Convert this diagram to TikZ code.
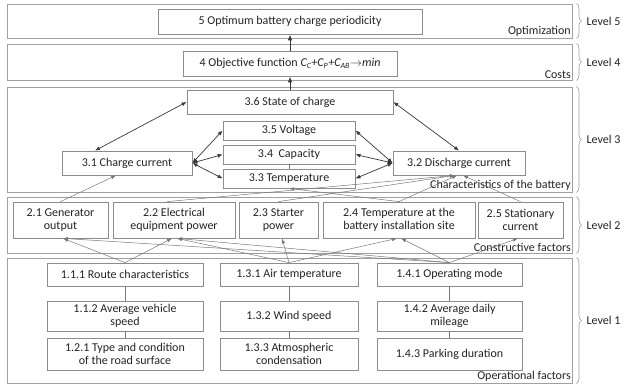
\documentclass[tikz,border=0pt]{standalone}
\usepackage{fontspec}
\setmainfont{Carlito}
\usetikzlibrary{arrows.meta, positioning, decorations.pathreplacing, calc}
\definecolor{FrameGray}{RGB}{160,160,160}
\definecolor{BoxGray}{RGB}{140,140,140}
\definecolor{LinkGray}{RGB}{120,120,120}
\definecolor{ArrowDark}{RGB}{55,55,55}
\definecolor{TextDark}{RGB}{35,35,35}

\begin{document}
\begin{tikzpicture}[x=1pt, y=-1pt, font=\fontsize{12}{13.5}\selectfont, text=TextDark,
    frame/.style={draw=FrameGray, line width=0.9pt, inner sep=0pt},
    box/.style={draw=BoxGray, line width=0.8pt, align=center, inner sep=1pt},
    tag/.style={anchor=south east, inner sep=1.5pt},
    lvl/.style={anchor=west, inner sep=0pt},
    brace/.style={draw=FrameGray, line width=0.6pt, decorate, decoration={brace, amplitude=5pt}},
    rise/.style={draw=ArrowDark, line width=0.9pt, -{Latex[length=6pt, width=4.5pt]}},
    dual/.style={draw=ArrowDark, line width=0.7pt, {Latex[length=5pt, width=4pt]}-{Latex[length=5pt, width=4pt]}},
    feed/.style={draw=LinkGray, line width=0.5pt, -{Latex[length=5pt, width=3.5pt]}},
    tie/.style={draw=LinkGray, line width=0.5pt}]
  \useasboundingbox (0,0) rectangle (630,385);

  % level frames
  \node[frame, minimum width=565pt, minimum height=34pt]  (lv5) at (289.5,21) {};
  \node[frame, minimum width=565pt, minimum height=36pt]  (lv4) at (289.5,62) {};
  \node[frame, minimum width=565pt, minimum height=105pt] (lv3) at (289.5,139.5) {};
  \node[frame, minimum width=565pt, minimum height=56pt]  (lv2) at (289.5,225) {};
  \node[frame, minimum width=565pt, minimum height=125pt] (lv1) at (289.5,320.5) {};

  \node[tag] (t5) at (lv5.south east) {Optimization};
  \node[tag] (t4) at (lv4.south east) {Costs};
  \node[tag] (t3) at (lv3.south east) {Characteristics of the battery};
  \node[tag] (t2) at (lv2.south east) {Constructive factors};
  \node[tag] (t1) at (lv1.south east) {Operational factors};

  \foreach \n in {1,...,5} {
    \draw[brace] ([xshift=4pt]lv\n.north east) -- ([xshift=4pt]lv\n.south east);
    \node[lvl] (lab\n) at ([xshift=14pt]lv\n.east) {Level \n};
  }

  % level 5 and 4
  \node[box, minimum width=264pt, minimum height=25pt] (c5) at (290,21.5) {5 Optimum battery charge periodicity};
  \node[box, minimum width=214pt, minimum height=25pt] (c4) at (290,63.5)
    {4 Objective function \textit{C\textsubscript{C}+C\textsubscript{P}+C\textsubscript{AB}}$\rightarrow$\textit{min}};

  % level 3
  \node[box, minimum width=206pt, minimum height=24pt] (c36) at (290,102) {3.6 State of charge};
  \node[box, minimum width=132pt, minimum height=19pt] (c35) at (289,130.5) {3.5 Voltage};
  \node[box, minimum width=132pt, minimum height=19pt] (c34) at (289,154.5) {3.4~~Capacity};
  \node[box, minimum width=132pt, minimum height=19pt] (c33) at (289,178.5) {3.3 Temperature};
  \node[box, minimum width=130pt, minimum height=24pt] (c31) at (127,163) {3.1 Charge current};
  \node[box, minimum width=132pt, minimum height=24pt] (c32) at (459,163) {3.2 Discharge current};

  % level 2
  \node[box, minimum width=95pt,  minimum height=36pt] (c21) at (60.5,220)  {2.1 Generator\\output};
  \node[box, minimum width=122pt, minimum height=36pt] (c22) at (174,220)   {2.2 Electrical\\equipment power};
  \node[box, minimum width=79pt,  minimum height=36pt] (c23) at (278.5,220) {2.3 Starter\\power};
  \node[box, minimum width=152pt, minimum height=36pt] (c24) at (399,220)   {2.4 Temperature at the\\battery installation site};
  \node[box, minimum width=85pt,  minimum height=36pt] (c25) at (520.5,220) {2.5 Stationary\\current};

  % level 1
  \node[box, minimum width=156pt, minimum height=23pt] (e111) at (125,274.5) {1.1.1 Route characteristics};
  \node[box, minimum width=156pt, minimum height=30pt] (e112) at (125,316)   {1.1.2 Average vehicle\\speed};
  \node[box, minimum width=156pt, minimum height=32pt] (e121) at (125,354)   {1.2.1 Type and condition\\of the road surface};
  \node[box, minimum width=138pt, minimum height=23pt] (e131) at (289,274.5) {1.3.1 Air temperature};
  \node[box, minimum width=138pt, minimum height=30pt] (e132) at (289,316)   {1.3.2 Wind speed};
  \node[box, minimum width=138pt, minimum height=32pt] (e133) at (289,354)   {1.3.3 Atmospheric\\condensation};
  \node[box, minimum width=145pt, minimum height=23pt] (e141) at (449.5,274.5) {1.4.1 Operating mode};
  \node[box, minimum width=145pt, minimum height=30pt] (e142) at (449.5,316)   {1.4.2 Average daily\\mileage};
  \node[box, minimum width=145pt, minimum height=32pt] (e143) at (449.5,354)   {1.4.3 Parking duration};

  % connectors
  \draw[rise] (c4.north) -- (c5.south);
  \draw[rise] (c36.north) -- (c4.south);
  \draw[dual] (c36.west) -- ([xshift=-32pt]c31.north);
  \draw[dual] (c36.east) -- (c32.north);
  \foreach \n in {c35,c34,c33} {
    \draw[dual] (c31.east) -- (\n.west);
    \draw[dual] (c32.west) -- (\n.east);
  }
  \draw[tie] (c34) -- (c33);

  \draw[feed] (c21.north) -- ([xshift=-11pt]c31.south);
  \draw[feed] ([xshift=-7pt]c22.north) -- ([xshift=-4pt]c32.south);
  \draw[feed] (c23.north) -- ([xshift=-4pt]c32.south);
  \draw[feed] (c24.north) -- (c33.south);
  \draw[feed] (c24.north) -- ([xshift=-2pt]c32.south);
  \draw[feed] (c25.north) -- ([xshift=4pt]c32.south);

  \draw[feed] (e111.north) -- ([xshift=2.5pt]c21.south);
  \draw[feed] (e111.north) -- ([xshift=-2pt]c22.south);
  \draw[feed] (e131.north) -- ([xshift=3pt]c22.south);
  \draw[feed] (e131.north) -- ([xshift=3.5pt]c23.south);
  \draw[feed] (e131.north) -- ([xshift=-2pt]c24.south);
  \draw[feed] (e141.north) -- ([xshift=2.5pt]c21.south);
  \draw[feed] (e141.north) -- ([xshift=3pt]c22.south);
  \draw[feed] (e141.north) -- ([xshift=2pt]c24.south);
  \draw[feed] (e141.north) -- ([xshift=-2.5pt]c25.south);

  \foreach \u/\v in {e111/e112, e112/e121, e131/e132, e132/e133, e141/e142, e142/e143}
    \draw[tie] (\u) -- (\v);
\end{tikzpicture}
\end{document}
